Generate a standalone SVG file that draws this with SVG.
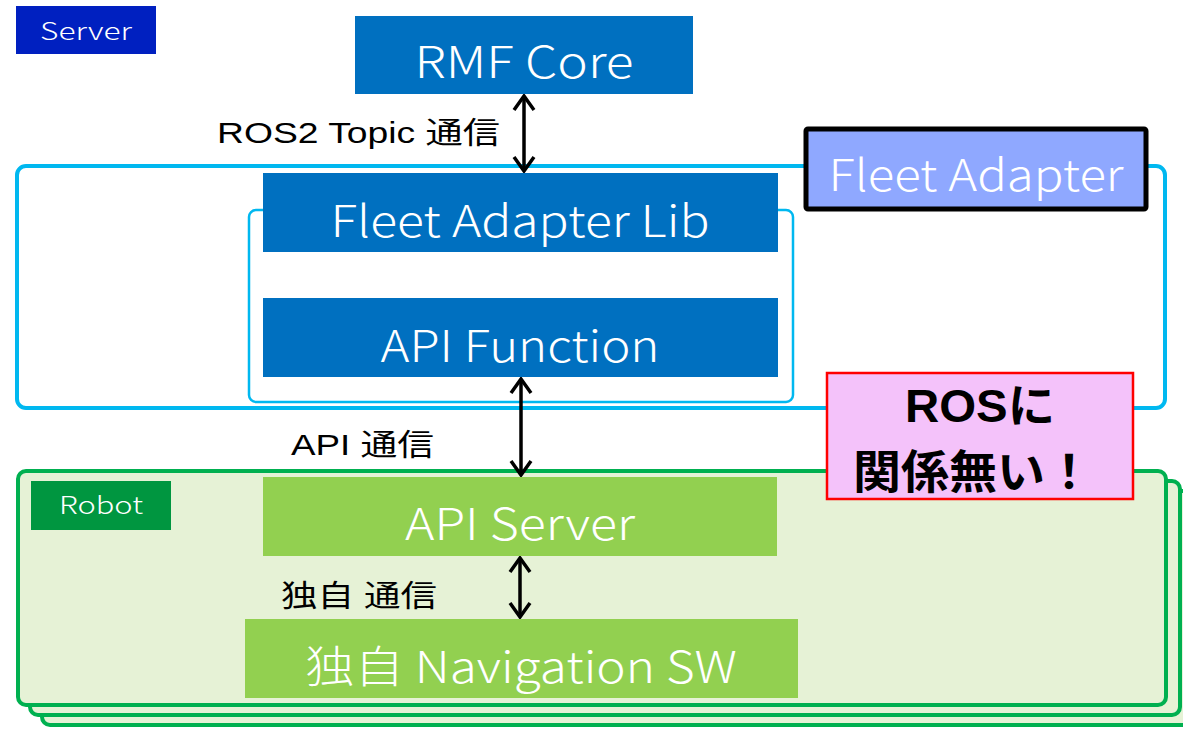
<svg xmlns="http://www.w3.org/2000/svg" width="1183" height="729" viewBox="0 0 1183 729">
<style>
.box{fill:#0070C0}
.gbox{fill:#92D050}
.wt{fill:#fff;font-family:"Noto Sans CJK JP","Noto Sans",sans-serif;font-weight:300;text-anchor:middle}
.bt{fill:#000;font-family:"Liberation Sans","Noto Sans CJK JP",sans-serif}
.robot{fill:#E6F2D6;stroke:#00B050;stroke-width:4}
.conn{stroke:#000;stroke-width:3.5;fill:none;marker-start:url(#ah);marker-end:url(#ah)}
</style>
<defs>
<marker id="ah" viewBox="0 0 20 24" refX="18" refY="12" markerWidth="20" markerHeight="24" markerUnits="userSpaceOnUse" orient="auto-start-reverse">
<path d="M4,2 L18,12 L4,22" fill="none" stroke="#000" stroke-width="3.5"/>
</marker>
</defs>
<rect width="1183" height="729" fill="#fff"/>

<g id="robot-stack">
<rect class="robot" x="42" y="491" width="1150" height="234" rx="8"/>
<rect class="robot" x="30" y="481" width="1150" height="234" rx="8"/>
<rect class="robot" x="18" y="471" width="1148" height="234" rx="8"/>
</g>

<g id="robot-label">
<rect x="31" y="481" width="140" height="49" fill="#009640"/>
<text class="wt" x="101" y="514" font-size="24" textLength="84" lengthAdjust="spacingAndGlyphs">Robot</text>
</g>

<g id="server-label">
<rect x="16" y="6" width="140" height="48" fill="#0020C0"/>
<text class="wt" x="86" y="40" font-size="24" textLength="92" lengthAdjust="spacingAndGlyphs">Server</text>
</g>

<g id="fleet-adapter-frame">
<rect x="17" y="166" width="1148" height="242" rx="9" fill="none" stroke="#00B8F0" stroke-width="4"/>
</g>
<g id="inner-frame">
<rect x="249" y="210" width="544" height="192" rx="7" fill="none" stroke="#00B8F0" stroke-width="2.5"/>
</g>

<g id="rmf-core">
<rect class="box" x="355" y="16" width="338" height="78"/>
<text class="wt" x="524" y="78" font-size="44" textLength="219" lengthAdjust="spacingAndGlyphs">RMF Core</text>
</g>

<g id="fleet-adapter-lib">
<rect class="box" x="263" y="173" width="515" height="79"/>
<text class="wt" x="520" y="237" font-size="44" textLength="379" lengthAdjust="spacingAndGlyphs">Fleet Adapter Lib</text>
</g>

<g id="api-function">
<rect class="box" x="263" y="298" width="515" height="79"/>
<text class="wt" x="520" y="362" font-size="44" textLength="279" lengthAdjust="spacingAndGlyphs">API Function</text>
</g>

<g id="fleet-adapter">
<rect x="806" y="129" width="340" height="80" fill="#8FA8FF" stroke="#000" stroke-width="5" rx="2"/>
<text class="wt" x="976" y="191" font-size="44" textLength="295" lengthAdjust="spacingAndGlyphs">Fleet Adapter</text>
</g>

<g id="api-server">
<rect class="gbox" x="263" y="477" width="514" height="79"/>
<text class="wt" x="520" y="540" font-size="44" textLength="230" lengthAdjust="spacingAndGlyphs">API Server</text>
</g>

<g id="navigation-sw">
<rect class="gbox" x="245" y="619" width="553" height="79"/>
<text class="wt" x="521" y="683" font-size="44" textLength="432" lengthAdjust="spacingAndGlyphs">独自 Navigation SW</text>
</g>

<g id="ros-note">
<rect x="827" y="373" width="306" height="126" fill="#F4C2FA" stroke="#FF0000" stroke-width="2.5"/>
<text class="bt" x="980" y="422" font-size="46" font-weight="bold" text-anchor="middle" textLength="150" lengthAdjust="spacingAndGlyphs">ROSに</text>
<text class="bt" x="973" y="488" font-size="46" font-weight="bold" text-anchor="middle" textLength="240" lengthAdjust="spacingAndGlyphs">関係無い！</text>
</g>

<g id="connectors">
<line class="conn" x1="524" y1="96" x2="524" y2="171"/>
<line class="conn" x1="521" y1="379" x2="521" y2="475"/>
<line class="conn" x1="520" y1="558" x2="520" y2="617"/>
</g>

<g id="labels">
<text class="bt" x="217" y="143" font-size="30" textLength="283" lengthAdjust="spacingAndGlyphs">ROS2 Topic 通信</text>
<text class="bt" x="291" y="455" font-size="30" textLength="143" lengthAdjust="spacingAndGlyphs">API 通信</text>
<text class="bt" x="281" y="606" font-size="30" textLength="156" lengthAdjust="spacingAndGlyphs">独自 通信</text>
</g>
</svg>
